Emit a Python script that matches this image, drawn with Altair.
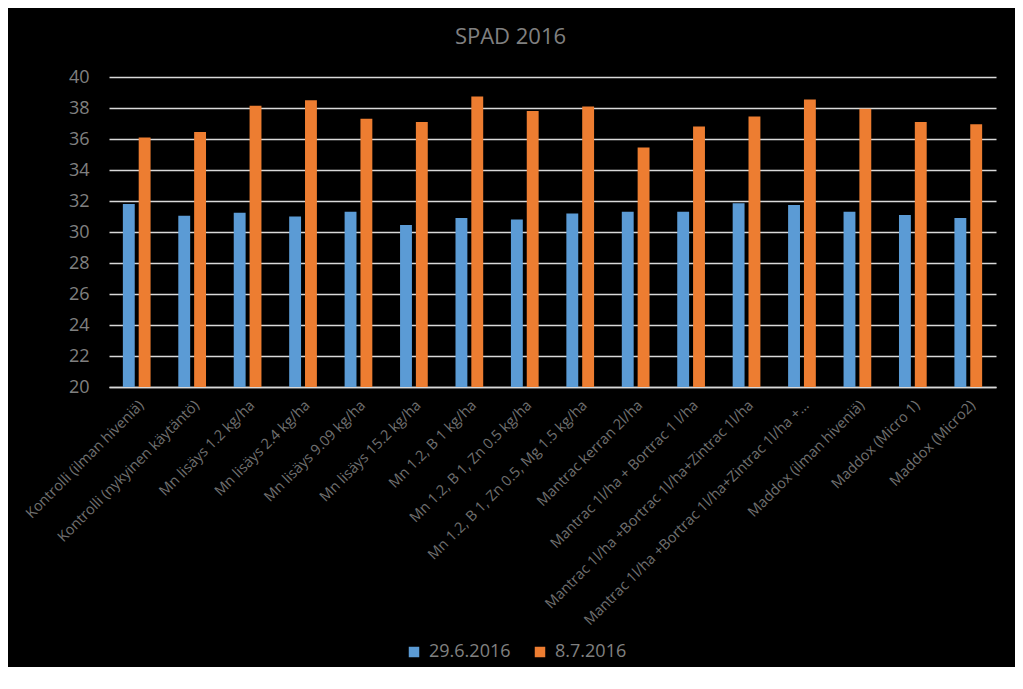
import altair as alt
import pandas as pd

categories = [
    "Kontrolli (ilman hiveniä)",
    "Kontrolli (nykyinen käytäntö)",
    "Mn lisäys 1.2 kg/ha",
    "Mn lisäys 2.4 kg/ha",
    "Mn lisäys 9.09 kg/ha",
    "Mn lisäys 15.2 kg/ha",
    "Mn 1.2, B 1 kg/ha",
    "Mn 1.2, B 1, Zn 0.5  kg/ha",
    "Mn 1.2, B 1, Zn 0.5, Mg 1.5 kg/ha",
    "Mantrac kerran 2l/ha",
    "Mantrac 1l/ha + Bortrac 1 l/ha",
    "Mantrac 1l/ha +Bortrac 1l/ha+Zintrac 1l/ha",
    "Mantrac 1l/ha +Bortrac 1l/ha+Zintrac 1l/ha +…",
    "Maddox (ilman hiveniä)",
    "Maddox (Micro 1)",
    "Maddox (Micro2)",
]
series_names = ["29.6.2016", "8.7.2016"]
values_1 = [31.8, 31.05, 31.25, 31.0, 31.3, 30.45, 30.9, 30.8,
            31.2, 31.3, 31.3, 31.85, 31.75, 31.3, 31.1, 30.9]
values_2 = [36.1, 36.45, 38.15, 38.5, 37.3, 37.1, 38.75, 37.8,
            38.1, 35.45, 36.8, 37.45, 38.55, 37.95, 37.1, 36.95]
colors = ["#5B9BD5", "#ED7D31"]

rows = []
for i, c in enumerate(categories):
    rows.append({"cat": c, "series": series_names[0], "value": values_1[i]})
    rows.append({"cat": c, "series": series_names[1], "value": values_2[i]})
df = pd.DataFrame(rows)

FONT = "Open Sans"
GRAY = "#808080"

chart = alt.Chart(df).mark_bar().encode(
    x=alt.X("cat:N", sort=categories, title=None,
            scale=alt.Scale(paddingInner=0.5, paddingOuter=0.25),
            axis=alt.Axis(labelAngle=-45, labelLimit=400, labelFontSize=14.5,
                          labelColor="#707070", labelFont=FONT, ticks=False,
                          domainColor="#d9d9d9", domainWidth=1.3, labelPadding=11,
                          grid=False)),
    xOffset=alt.XOffset("series:N", sort=series_names,
                        scale=alt.Scale(paddingInner=0.25, paddingOuter=0)),
    y=alt.Y("value:Q", title=None,
            scale=alt.Scale(domain=[20, 40], nice=False, zero=False),
            axis=alt.Axis(values=list(range(20, 41, 2)), labelFontSize=18,
                          labelColor=GRAY, labelFont=FONT, ticks=False,
                          domain=False, labelPadding=20, gridColor="#d9d9d9",
                          gridWidth=1.3)),
    y2=alt.datum(20),
    color=alt.Color("series:N", sort=series_names,
                    scale=alt.Scale(domain=series_names, range=colors),
                    legend=alt.Legend(title=None, orient="none", direction="horizontal",
                                      legendX=296, legendY=566,
                                      symbolType="square", symbolSize=110,
                                      symbolStrokeWidth=0,
                                      labelFontSize=18, labelColor=GRAY,
                                      labelFont=FONT, labelOffset=6,
                                      columnPadding=20)),
).properties(
    width=887,
    height=310,
    title=alt.TitleParams("SPAD 2016", font=FONT, fontSize=22, color=GRAY,
                          fontWeight="normal", dx=-42, offset=19),
    autosize=alt.AutoSizeParams(type="none"),
    padding={"left": 101, "top": 69, "right": 19, "bottom": 280},
).configure(
    background="black",
).configure_view(
    stroke=None,
)

chart.save("out.html", embed_options={"renderer": "svg", "actions": False})
